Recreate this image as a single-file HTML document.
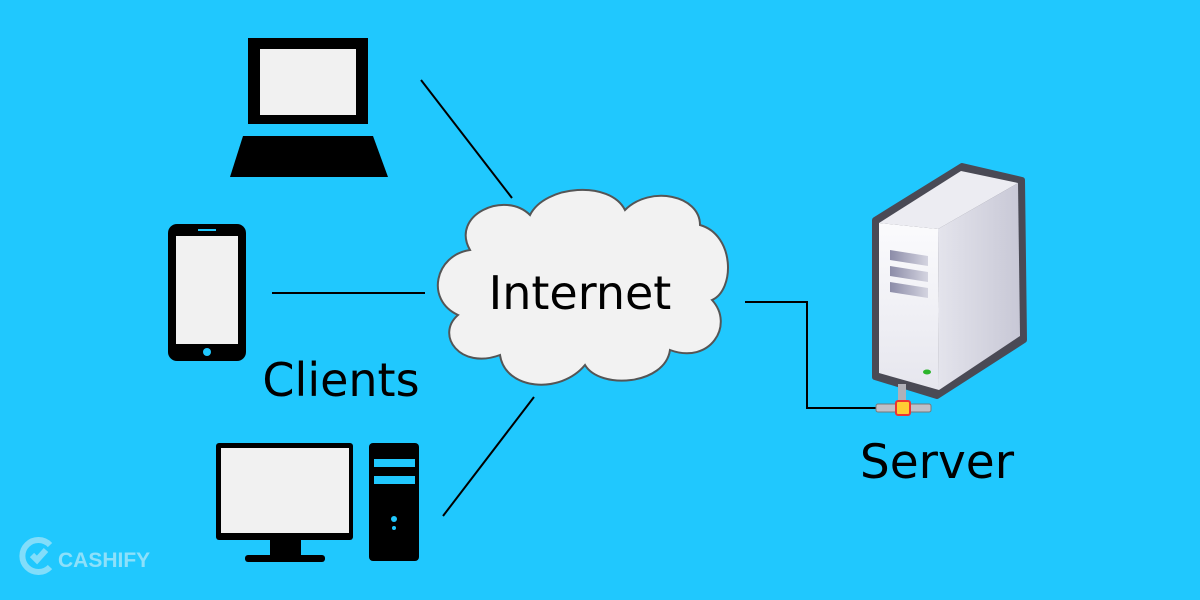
<!DOCTYPE html>
<html><head><style>
html,body{margin:0;padding:0}
body{width:1200px;height:600px;background:#20c8fe;position:relative;overflow:hidden;font-family:"DejaVu Sans","Liberation Sans",sans-serif}
svg{position:absolute;left:0;top:0}
</style></head><body>
<svg width="1200" height="600" viewBox="0 0 1200 600">
<defs>
<linearGradient id="side" x1="0" y1="0" x2="1" y2="0"><stop offset="0" stop-color="#e4e4ec"/><stop offset="1" stop-color="#c8c8d6"/></linearGradient>
<linearGradient id="front" x1="0" y1="0" x2="0" y2="1"><stop offset="0" stop-color="#fbfbfd"/><stop offset="1" stop-color="#e6e6ee"/></linearGradient>
<linearGradient id="slot" x1="0" y1="0" x2="1" y2="0"><stop offset="0" stop-color="#8c8ca8"/><stop offset="1" stop-color="#d4d4e0"/></linearGradient>
</defs>
<g stroke="#000" stroke-width="2" fill="none">
<line x1="421" y1="80" x2="512" y2="198"/>
<line x1="272" y1="293" x2="425" y2="293"/>
<line x1="534" y1="397" x2="443" y2="516"/>
<polyline points="745,302 807,302 807,408 880,408"/>
</g>
<rect x="248" y="38" width="120" height="86" fill="#000"/>
<rect x="260" y="49" width="96" height="66" fill="#f1f1f1"/>
<polygon points="243,136 373,136 388,177 230,177" fill="#000"/>
<rect x="168" y="224" width="78" height="137" rx="9" fill="#000"/>
<rect x="176" y="236" width="62" height="108" fill="#f1f1f1"/>
<rect x="198" y="229" width="18" height="2" fill="#20c8fe"/>
<circle cx="207" cy="352" r="4" fill="#20c8fe"/>
<rect x="216" y="443" width="137" height="97" rx="3" fill="#000"/>
<rect x="221" y="448" width="128" height="85" fill="#f1f1f1"/>
<rect x="270" y="538" width="31" height="18" fill="#000"/>
<rect x="245" y="555" width="80" height="7" rx="3" fill="#000"/>
<rect x="369" y="443" width="50" height="118" rx="4" fill="#000"/>
<rect x="374" y="459" width="41" height="8" fill="#20c8fe"/>
<rect x="374" y="476" width="41" height="8" fill="#20c8fe"/>
<circle cx="394" cy="519" r="3" fill="#20c8fe"/>
<circle cx="394" cy="528" r="2" fill="#20c8fe"/>
<path d="M470,250 C450,215 505,190 530,215 C545,185 610,180 625,210 C650,185 700,195 700,225 C735,235 735,290 712,300 C735,325 710,365 670,350 C665,385 600,390 585,365 C560,395 505,390 500,355 C460,370 435,335 458,315 C425,300 435,255 470,250 Z" fill="#f2f2f2" stroke="#555" stroke-width="2"/>
<text x="580" y="309" font-size="46" text-anchor="middle" fill="#000">Internet</text>
<text x="341" y="396" font-size="46" text-anchor="middle" fill="#000">Clients</text>
<text x="937" y="478" font-size="47" text-anchor="middle" fill="#000">Server</text>
<polygon points="875,220 962,166 1022,180 1024,340 937,396 875,377" fill="#4a4a55" stroke="#4a4a55" stroke-width="6" stroke-linejoin="round"/>
<polygon points="879,223 961,171 1018,183 938,229" fill="#ececf2"/>
<polygon points="938,229 1018,183 1020,336 939,390" fill="url(#side)"/>
<polygon points="879,223 938,229 939,390 879,373" fill="url(#front)"/>
<polygon points="890,250 928,256 928,266 890,260" fill="url(#slot)"/>
<polygon points="890,266 928,272 928,282 890,276" fill="url(#slot)"/>
<polygon points="890,282 928,288 928,298 890,292" fill="url(#slot)"/>
<ellipse cx="927" cy="372" rx="4" ry="2.5" fill="#2cb52c"/>
<rect x="898" y="384" width="8" height="20" fill="#b0b0b8"/>
<rect x="876" y="404" width="55" height="8" rx="2" fill="#c0c0c8" stroke="#777" stroke-width="1"/>
<rect x="896" y="401" width="14" height="14" rx="2" fill="#ffcc33" stroke="#e33" stroke-width="2"/>
<g fill="none" stroke="#8de0fa" stroke-width="6" opacity="0.9">
<path d="M50,545 A16,16 0 1 0 50,567"/>
<path d="M32,555 l5,5 l9,-10"/>
</g>
<text x="58" y="567" font-size="21" font-weight="bold" fill="#8de0fa" font-family="Liberation Sans,sans-serif">CASHIFY</text>
</svg>
</body></html>
